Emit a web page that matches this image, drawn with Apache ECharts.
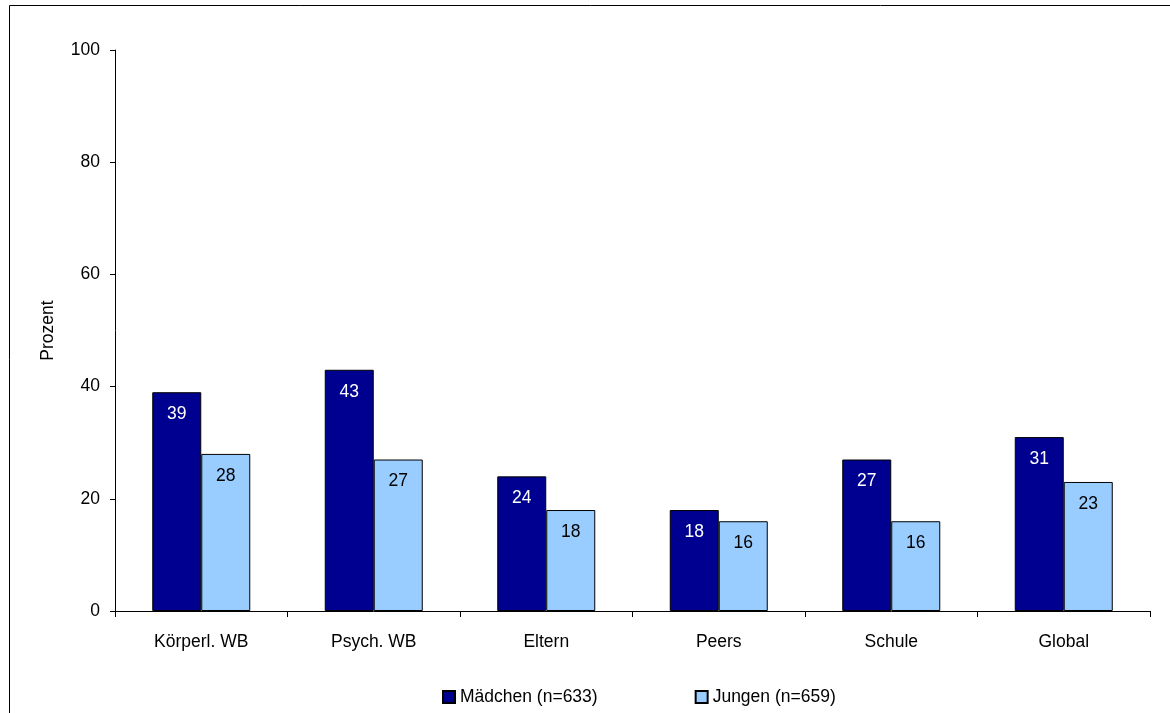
<!DOCTYPE html>
<html>
<head>
<meta charset="utf-8">
<script src="https://cdn.jsdelivr.net/npm/echarts@6/dist/echarts.min.js"></script>
<style>
  html, body { margin: 0; padding: 0; background: #fff; }
  #chart { width: 1170px; height: 713px; }
</style>
</head>
<body>
<div id="chart"></div>
<script>
// Kategorien und Werte (Prozent)
const categories = ['Körperl. WB', 'Psych. WB', 'Eltern', 'Peers', 'Schule', 'Global'];
const maedchen = [39, 43, 24, 18, 27, 31];
const jungen = [28, 27, 18, 16, 16, 23];
const seriesNames = ['Mädchen (n=633)', 'Jungen (n=659)'];
const yTicks = { min: 0, max: 100, interval: 20 };

const font = 'Liberation Sans, Arial, sans-serif';
const fs = 17.5;
const chart = echarts.init(document.getElementById('chart'), null, { renderer: 'canvas' });

const labelStyle = (color) => ({
  show: true,
  position: 'insideTop',
  distance: 13,
  color: color,
  fontFamily: font,
  fontSize: fs
});

chart.setOption({
  animation: false,
  backgroundColor: '#ffffff',
  textStyle: { fontFamily: font },
  graphic: [{
    type: 'rect',
    shape: { x: 9.5, y: 5.5, width: 1200, height: 800 },
    style: { fill: 'none', stroke: '#000000', lineWidth: 1 },
    silent: true,
    z: -1
  }],
  grid: { left: 115, right: 20, top: 50, bottom: 102 },
  legend: {
    top: 683,
    left: 437,
    itemWidth: 12,
    itemHeight: 12,
    itemGap: 97,
    icon: 'rect',
    textStyle: { fontFamily: font, fontSize: fs, color: '#000' },
    data: seriesNames
  },
  xAxis: {
    type: 'category',
    data: categories,
    axisLine: { lineStyle: { color: '#000', width: 1 } },
    axisTick: { show: true, length: 6, alignWithLabel: false, lineStyle: { color: '#000' } },
    axisLabel: { color: '#000', fontFamily: font, fontSize: fs, margin: 22 }
  },
  yAxis: {
    type: 'value',
    min: yTicks.min,
    max: yTicks.max,
    interval: yTicks.interval,
    name: 'Prozent',
    nameLocation: 'middle',
    nameGap: 58,
    nameRotate: 90,
    nameTextStyle: { color: '#000', fontFamily: font, fontSize: fs },
    axisLine: { show: true, lineStyle: { color: '#000', width: 1 } },
    axisTick: { show: true, length: 5, lineStyle: { color: '#000' } },
    axisLabel: { color: '#000', fontFamily: font, fontSize: fs, margin: 15 },
    splitLine: { show: false }
  },
  series: [
    {
      name: seriesNames[0],
      type: 'bar',
      data: maedchen,
      barWidth: 49,
      barGap: '0%',
      itemStyle: { color: '#000090', borderColor: '#000000', borderWidth: 1 },
      label: labelStyle('#ffffff')
    },
    {
      name: seriesNames[1],
      type: 'bar',
      data: jungen,
      barWidth: 49,
      barGap: '0%',
      itemStyle: { color: '#99ccff', borderColor: '#000000', borderWidth: 1 },
      label: labelStyle('#000000')
    }
  ]
});
</script>
</body>
</html>
